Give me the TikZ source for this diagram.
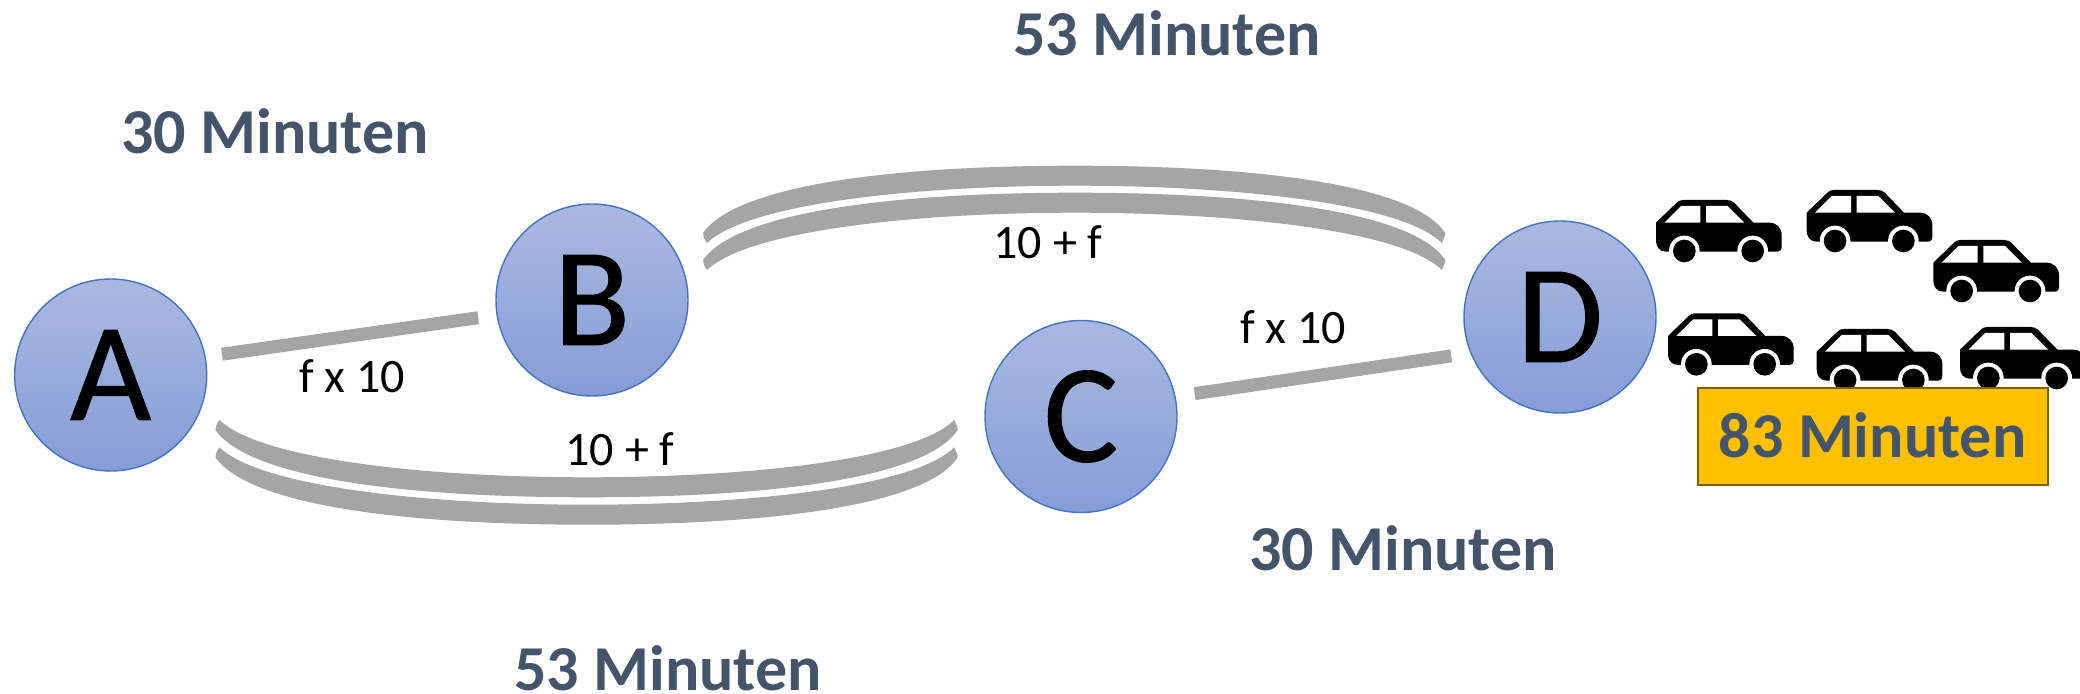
\documentclass[tikz,border=0pt]{standalone}
\usepackage{fontspec}
\setmainfont{Carlito}
\newfontfamily\stationfont[FakeBold=0.8]{Carlito}
\definecolor{linegray}{HTML}{A5A5A5}
\definecolor{nodeline}{HTML}{4472C4}
\definecolor{nodetop}{HTML}{AAB9E0}
\definecolor{nodebot}{HTML}{849DD6}
\definecolor{timetxt}{HTML}{44546A}
\definecolor{boxfill}{HTML}{FFC000}
\definecolor{boxline}{HTML}{7F6000}
\newcommand{\stationtext}[1]{\raisebox{-2.2pt}{#1}}
\tikzset{
  x=0.5pt,y=-0.5pt,
  stationnode/.style={circle,minimum size=96pt,inner sep=0pt,outer sep=0pt,draw=nodeline,line width=0.7pt,top color=nodetop,bottom color=nodebot,font=\stationfont\fontsize{70}{70}\selectfont,text=black},
  road/.style={draw=linegray,line width=6.5pt},
  flowlabel/.style={font=\fontsize{24}{24}\selectfont,text=black,inner sep=0pt},
  timelabel/.style={font=\fontsize{32}{32}\selectfont\bfseries,text=timetxt,inner sep=0pt},
  crescent/.pic={
    \fill[linegray,xscale=1/1.96,yscale=1/3] (-722,-172) .. controls (-640,-52) and (-310,0) .. (0,0)
      .. controls (310,0) and (640,-52) .. (718,-172)
      .. controls (722,-160) and (725,-150) .. (725,-142)
      .. controls (660,8) and (340,60) .. (0,60)
      .. controls (-340,60) and (-660,8) .. (-730,-142)
      .. controls (-730,-152) and (-727,-162) .. (-722,-172) -- cycle;
  },
  car/.pic={
    \begin{scope}[scale=1/3]
    \fill[black] (0,68) -- (62,8) .. controls (68,2) and (74,0) .. (82,0) -- (212,0)
      .. controls (222,0) and (228,3) .. (234,8) -- (292,68) -- (340,68)
      .. controls (362,68) and (377,84) .. (377,106) -- (377,140)
      .. controls (377,150) and (372,155) .. (362,155) -- (30,155)
      .. controls (10,155) and (0,140) .. (0,122) -- cycle;
    \fill[white] (25,68) -- (75,18) -- (133,18) -- (133,68) -- cycle;
    \fill[white] (150,18) -- (215,18) -- (265,68) -- (150,68) -- cycle;
    \begin{scope}
      \clip (0,68) rectangle (377,155);
      \fill[white] (85,153) circle (46);
      \fill[white] (290,153) circle (46);
    \end{scope}
    \fill[black] (85,153) circle (34);
    \fill[black] (290,153) circle (34);
    \end{scope}
  }
}
\begin{document}
\begin{tikzpicture}
\useasboundingbox (0,0) rectangle (2080,694);
% stations
\node[stationnode] (A) at (110.7,375) {\stationtext{A}};
\node[stationnode] (B) at (592,300) {\stationtext{B}};
\node[stationnode] (C) at (1081,416.5) {\stationtext{C}};
\node[stationnode] (D) at (1560,317) {\stationtext{D}};
% straight roads
\draw[road,shorten <=8.6pt,shorten >=9.6pt] (A.11.8) -- (B.189.85);
\draw[road,shorten <=10pt,shorten >=10pt] (C.12.4) -- (D.202.5);
% double curved roads
\pic at (587.8,477.3) {crescent};
\pic at (587.8,504.7) {crescent};
\pic[yscale=-1] at (1075.4,185.7) {crescent};
\pic[yscale=-1] at (1075.4,212.7) {crescent};
% flow labels
\node[flowlabel] (l1) at (352,376) {f x 10};
\node[flowlabel] (l2) at (1293,327) {f x 10};
\node[flowlabel] (l3) at (620,449) {10 + f};
\node[flowlabel] (l4) at (1048,242) {10 + f};
% times
\node[timelabel] (t1) at (1167,33) {53 Minuten};
\node[timelabel] (t2) at (275,131) {30 Minuten};
\node[timelabel] (t3) at (1403,548) {30 Minuten};
\node[timelabel] (t4) at (668,668) {53 Minuten};
% cars
\pic at (1656,200) {car};
\pic at (1806.7,190) {car};
\pic at (1933.3,240) {car};
\pic at (1668,313.3) {car};
\pic at (1816.7,329) {car};
\pic at (1960,327) {car};
% jam box
\draw[fill=boxfill,draw=boxline,line width=1.4pt] (1698,388) rectangle (2048,485);
\node[timelabel] (t5) at (1872.5,435) {83 Minuten};
\end{tikzpicture}
\end{document}
